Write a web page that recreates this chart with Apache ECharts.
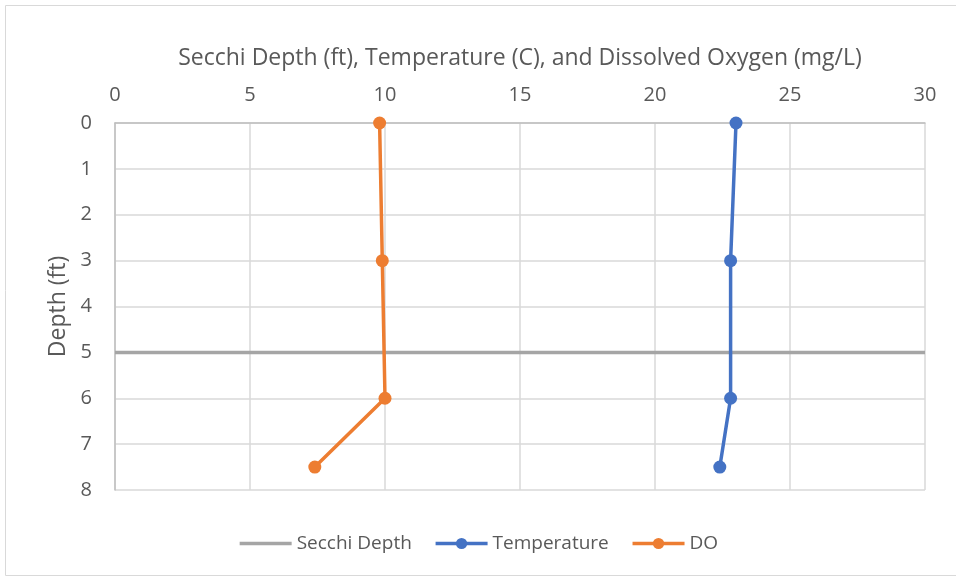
<!DOCTYPE html>
<html>
<head>
<meta charset="utf-8">
<script src="https://cdn.jsdelivr.net/npm/echarts@6/dist/echarts.min.js"></script>
<style>html,body{margin:0;padding:0;background:#fff;}#c{width:956px;height:578px;}</style>
</head>
<body>
<div id="c"></div>
<script>
const depths = [0, 3, 6, 7.5];
const temperature = [23.0, 22.8, 22.8, 22.4];
const dissolvedOxygen = [9.8, 9.9, 10.0, 7.4];
const secchiDepth = 5;
const secchiX = [0, 30];
const seriesNames = ['Secchi Depth', 'Temperature', 'DO'];
const xTitle = 'Secchi Depth (ft), Temperature (C), and Dissolved Oxygen (mg/L)';
const yTitle = 'Depth (ft)';

const font = '"Open Sans", Lato, sans-serif';
const txt = '#595959';
const chart = echarts.init(document.getElementById('c'));
chart.setOption({
  animation: false,
  graphic: [{type:'rect', shape:{x:5.5,y:5.5,width:951,height:570}, style:{fill:'none', stroke:'#D9D9D9', lineWidth:1}}],
  grid: {left:115, right:31, top:123, bottom:88},
  legend: {
    bottom: 20, left: 'center', itemGap: 22, itemWidth: 52, itemHeight: 14,
    textStyle: {color: txt, fontSize: 19, fontFamily: font},
    lineStyle: {width: 3.5},
    data: [
      {name: seriesNames[0], itemStyle: {opacity: 0}},
      {name: seriesNames[1]},
      {name: seriesNames[2]}
    ]
  },
  xAxis: {
    type: 'value', position: 'top', min: 0, max: 30, interval: 5,
    name: xTitle, nameLocation: 'middle', nameGap: 53,
    nameTextStyle: {color: txt, fontSize: 23, fontFamily: font},
    axisLine: {show: true, lineStyle: {color: '#BFBFBF', width: 1.5}},
    axisTick: {show: false},
    axisLabel: {color: txt, fontSize: 20, fontFamily: font, margin: 18},
    splitLine: {show: true, lineStyle: {color: '#D9D9D9', width: 1.5}}
  },
  yAxis: {
    type: 'value', inverse: true, min: 0, max: 8, interval: 1,
    name: yTitle, nameLocation: 'middle', nameGap: 45,
    nameTextStyle: {color: txt, fontSize: 23, fontFamily: font},
    axisLine: {show: true, lineStyle: {color: '#BFBFBF', width: 1.5}},
    axisTick: {show: false},
    axisLabel: {color: txt, fontSize: 20, fontFamily: font, margin: 23},
    splitLine: {show: true, lineStyle: {color: '#D9D9D9', width: 1.5}}
  },
  series: [
    {
      name: seriesNames[0], type: 'line', symbol: 'none',
      data: secchiX.map(x => [x, secchiDepth]),
      lineStyle: {color: '#A5A5A5', width: 3.5}, itemStyle: {color: '#A5A5A5'}
    },
    {
      name: seriesNames[1], type: 'line', symbol: 'circle', symbolSize: 13,
      data: depths.map((d, i) => [temperature[i], d]),
      lineStyle: {color: '#4472C4', width: 3.5}, itemStyle: {color: '#4472C4'}
    },
    {
      name: seriesNames[2], type: 'line', symbol: 'circle', symbolSize: 13,
      data: depths.map((d, i) => [dissolvedOxygen[i], d]),
      lineStyle: {color: '#ED7D31', width: 3.5}, itemStyle: {color: '#ED7D31'}
    }
  ]
});
</script>
</body>
</html>
